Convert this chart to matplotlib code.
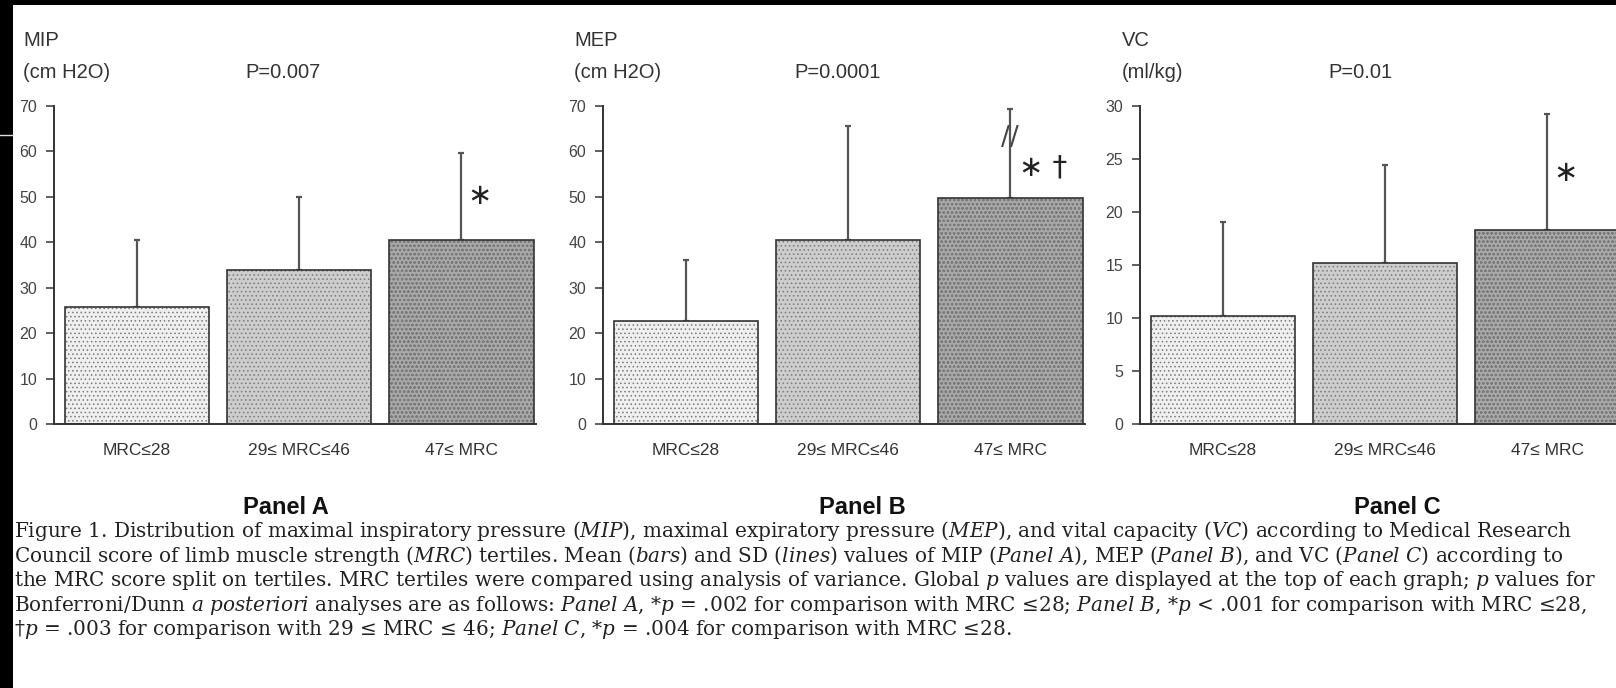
import matplotlib as mpl
import matplotlib.pyplot as plt
from matplotlib.patches import Rectangle
from matplotlib.lines import Line2D
import numpy as np

mpl.rcParams.update({
    "font.family": "sans-serif",
    "font.sans-serif": ["Liberation Sans", "DejaVu Sans"],
    "mathtext.fontset": "custom",
    "mathtext.rm": "DejaVu Serif",
    "mathtext.it": "DejaVu Serif:italic",
    "hatch.linewidth": 0.6,
})

# =========================
# Data
# =========================

groups = ["MRC\u226428", "29\u2264 MRC\u226446", "47\u2264 MRC"]

mip_mean = [25.7, 34.0, 40.4]
mip_sd = [14.7, 16.0, 19.3]

mep_mean = [22.6, 40.4, 49.8]
mep_sd = [13.4, 25.3, 19.6]
mep_break = 63.0   # axis break drawn on the truncated SD line

vc_mean = [10.2, 15.2, 18.3]
vc_sd = [8.9, 9.25, 10.95]

panel_vars = ["MIP", "MEP", "VC"]
panel_units = ["(cm H2O)", "(cm H2O)", "(ml/kg)"]
panel_p = ["P=0.007", "P=0.0001", "P=0.01"]
panel_marks = ["\u2217", "\u2217 \u2020", "\u2217"]
panel_names = ["Panel A", "Panel B", "Panel C"]
y_max = [70, 70, 30]
y_step = [10, 10, 5]

BAR_FACE = ["#efefef", "#cdcdcd", "#a9a9a9"]
BAR_HATCH = ["....", "....", "oooo"]

caption = [
    r"Figure 1. Distribution of maximal inspiratory pressure ($\mathit{MIP}$), maximal expiratory pressure ($\mathit{MEP}$), and vital capacity ($\mathit{VC}$) according to Medical Research",
    r"Council score of limb muscle strength ($\mathit{MRC}$) tertiles. Mean ($\mathit{bars}$) and SD ($\mathit{lines}$) values of MIP ($\mathit{Panel\ A}$), MEP ($\mathit{Panel\ B}$), and VC ($\mathit{Panel\ C}$) according to",
    r"the MRC score split on tertiles. MRC tertiles were compared using analysis of variance. Global $\mathit{p}$ values are displayed at the top of each graph; $\mathit{p}$ values for",
    r"Bonferroni/Dunn $\mathit{a\ posteriori}$ analyses are as follows: $\mathit{Panel\ A}$, *$\mathit{p}$ = .002 for comparison with MRC ≤28; $\mathit{Panel\ B}$, *$\mathit{p}$ < .001 for comparison with MRC ≤28,",
    r"†$\mathit{p}$ = .003 for comparison with 29 ≤ MRC ≤ 46; $\mathit{Panel\ C}$, *$\mathit{p}$ = .004 for comparison with MRC ≤28.",
]

means = [mip_mean, mep_mean, vc_mean]
sds = [mip_sd, mep_sd, vc_sd]

# =========================
# Figure
# =========================

W, H = 1616, 688
fig = plt.figure(figsize=(W / 100, H / 100), dpi=100)
fig.patch.set_facecolor("white")

ax_left = [54, 603, 1140]
ax_width = 482
ax_top, ax_bottom = 106, 424
header_x = [23, 574, 1122]
p_x = [245, 794, 1328]
panel_cx = [286, 862, 1397]
mark_dx = [4, 6, 4]
mark_y = [50.2, 56.4, 23.7]

for k in range(3):
    ax = fig.add_axes([ax_left[k] / W, 1 - ax_bottom / H,
                       ax_width / W, (ax_bottom - ax_top) / H])
    x = np.arange(len(groups))
    bars = ax.bar(x, means[k], width=0.89, color=BAR_FACE,
                  edgecolor="#333333", linewidth=1.2, zorder=2)
    for b, h in zip(bars, BAR_HATCH):
        b.set_hatch(h)
        b._hatch_color = mpl.colors.to_rgba("#7a7a7a")

    ax.errorbar(x, means[k], yerr=[np.zeros(3), sds[k]], fmt="none",
                ecolor="#555555", elinewidth=1.6, capsize=2.5, capthick=1.6,
                zorder=1)

    ax.set_xlim(-0.51, 2.46)
    ax.set_ylim(0, y_max[k])
    ax.set_yticks(np.arange(0, y_max[k] + 1, y_step[k]))
    ax.set_xticks(x)
    ax.set_xticklabels(groups, fontsize=12.5, color="#333333")
    ax.tick_params(axis="x", length=0, pad=14)
    ax.tick_params(axis="y", length=6, width=1.2, color="#444444",
                   labelsize=11.5, labelcolor="#444444", pad=6)

    for s in ["top", "right"]:
        ax.spines[s].set_visible(False)
    for s in ["left", "bottom"]:
        ax.spines[s].set_color("#333333")
        ax.spines[s].set_linewidth(1.4)

    ax.annotate(panel_marks[k], xy=(2, mark_y[k]),
                xytext=(mark_dx[k], 0), textcoords="offset points",
                fontsize=21, ha="left", va="center", color="#222222",
                family="DejaVu Sans")

    if k == 1:
        ax.annotate("//", xy=(2, mep_break), xytext=(0, 0),
                    textcoords="offset points", fontsize=19, ha="center",
                    va="center", color="#444444", family="DejaVu Sans")

    fig.text(header_x[k] / W, 1 - 40 / H, panel_vars[k], fontsize=14.5,
             color="#333333", va="center")
    fig.text(header_x[k] / W, 1 - 72 / H, panel_units[k], fontsize=14.5,
             color="#333333", va="center")
    fig.text(p_x[k] / W, 1 - 72 / H, panel_p[k], fontsize=14.5,
             color="#333333", va="center")
    fig.text(panel_cx[k] / W, 1 - 507 / H, panel_names[k], fontsize=17,
             fontweight="bold", ha="center", va="center", color="#111111")

# caption lines
for i, line in enumerate(caption):
    fig.text(14 / W, 1 - (531 + 24.7 * i) / H, line, fontsize=14.4,
             family="DejaVu Serif", va="center", color="#222222")

# scan border
fig.add_artist(Rectangle((0, 1 - 5 / H), 1, 5 / H, transform=fig.transFigure,
                         facecolor="black", edgecolor="none", zorder=10))
fig.add_artist(Rectangle((0, 0), 13 / W, 1, transform=fig.transFigure,
                         facecolor="black", edgecolor="none", zorder=10))
fig.add_artist(Line2D([0, 13 / W], [1 - 135 / H, 1 - 135 / H],
                      transform=fig.transFigure, color="#dddddd", lw=1,
                      zorder=11))

fig.savefig("out.png", dpi=100)
